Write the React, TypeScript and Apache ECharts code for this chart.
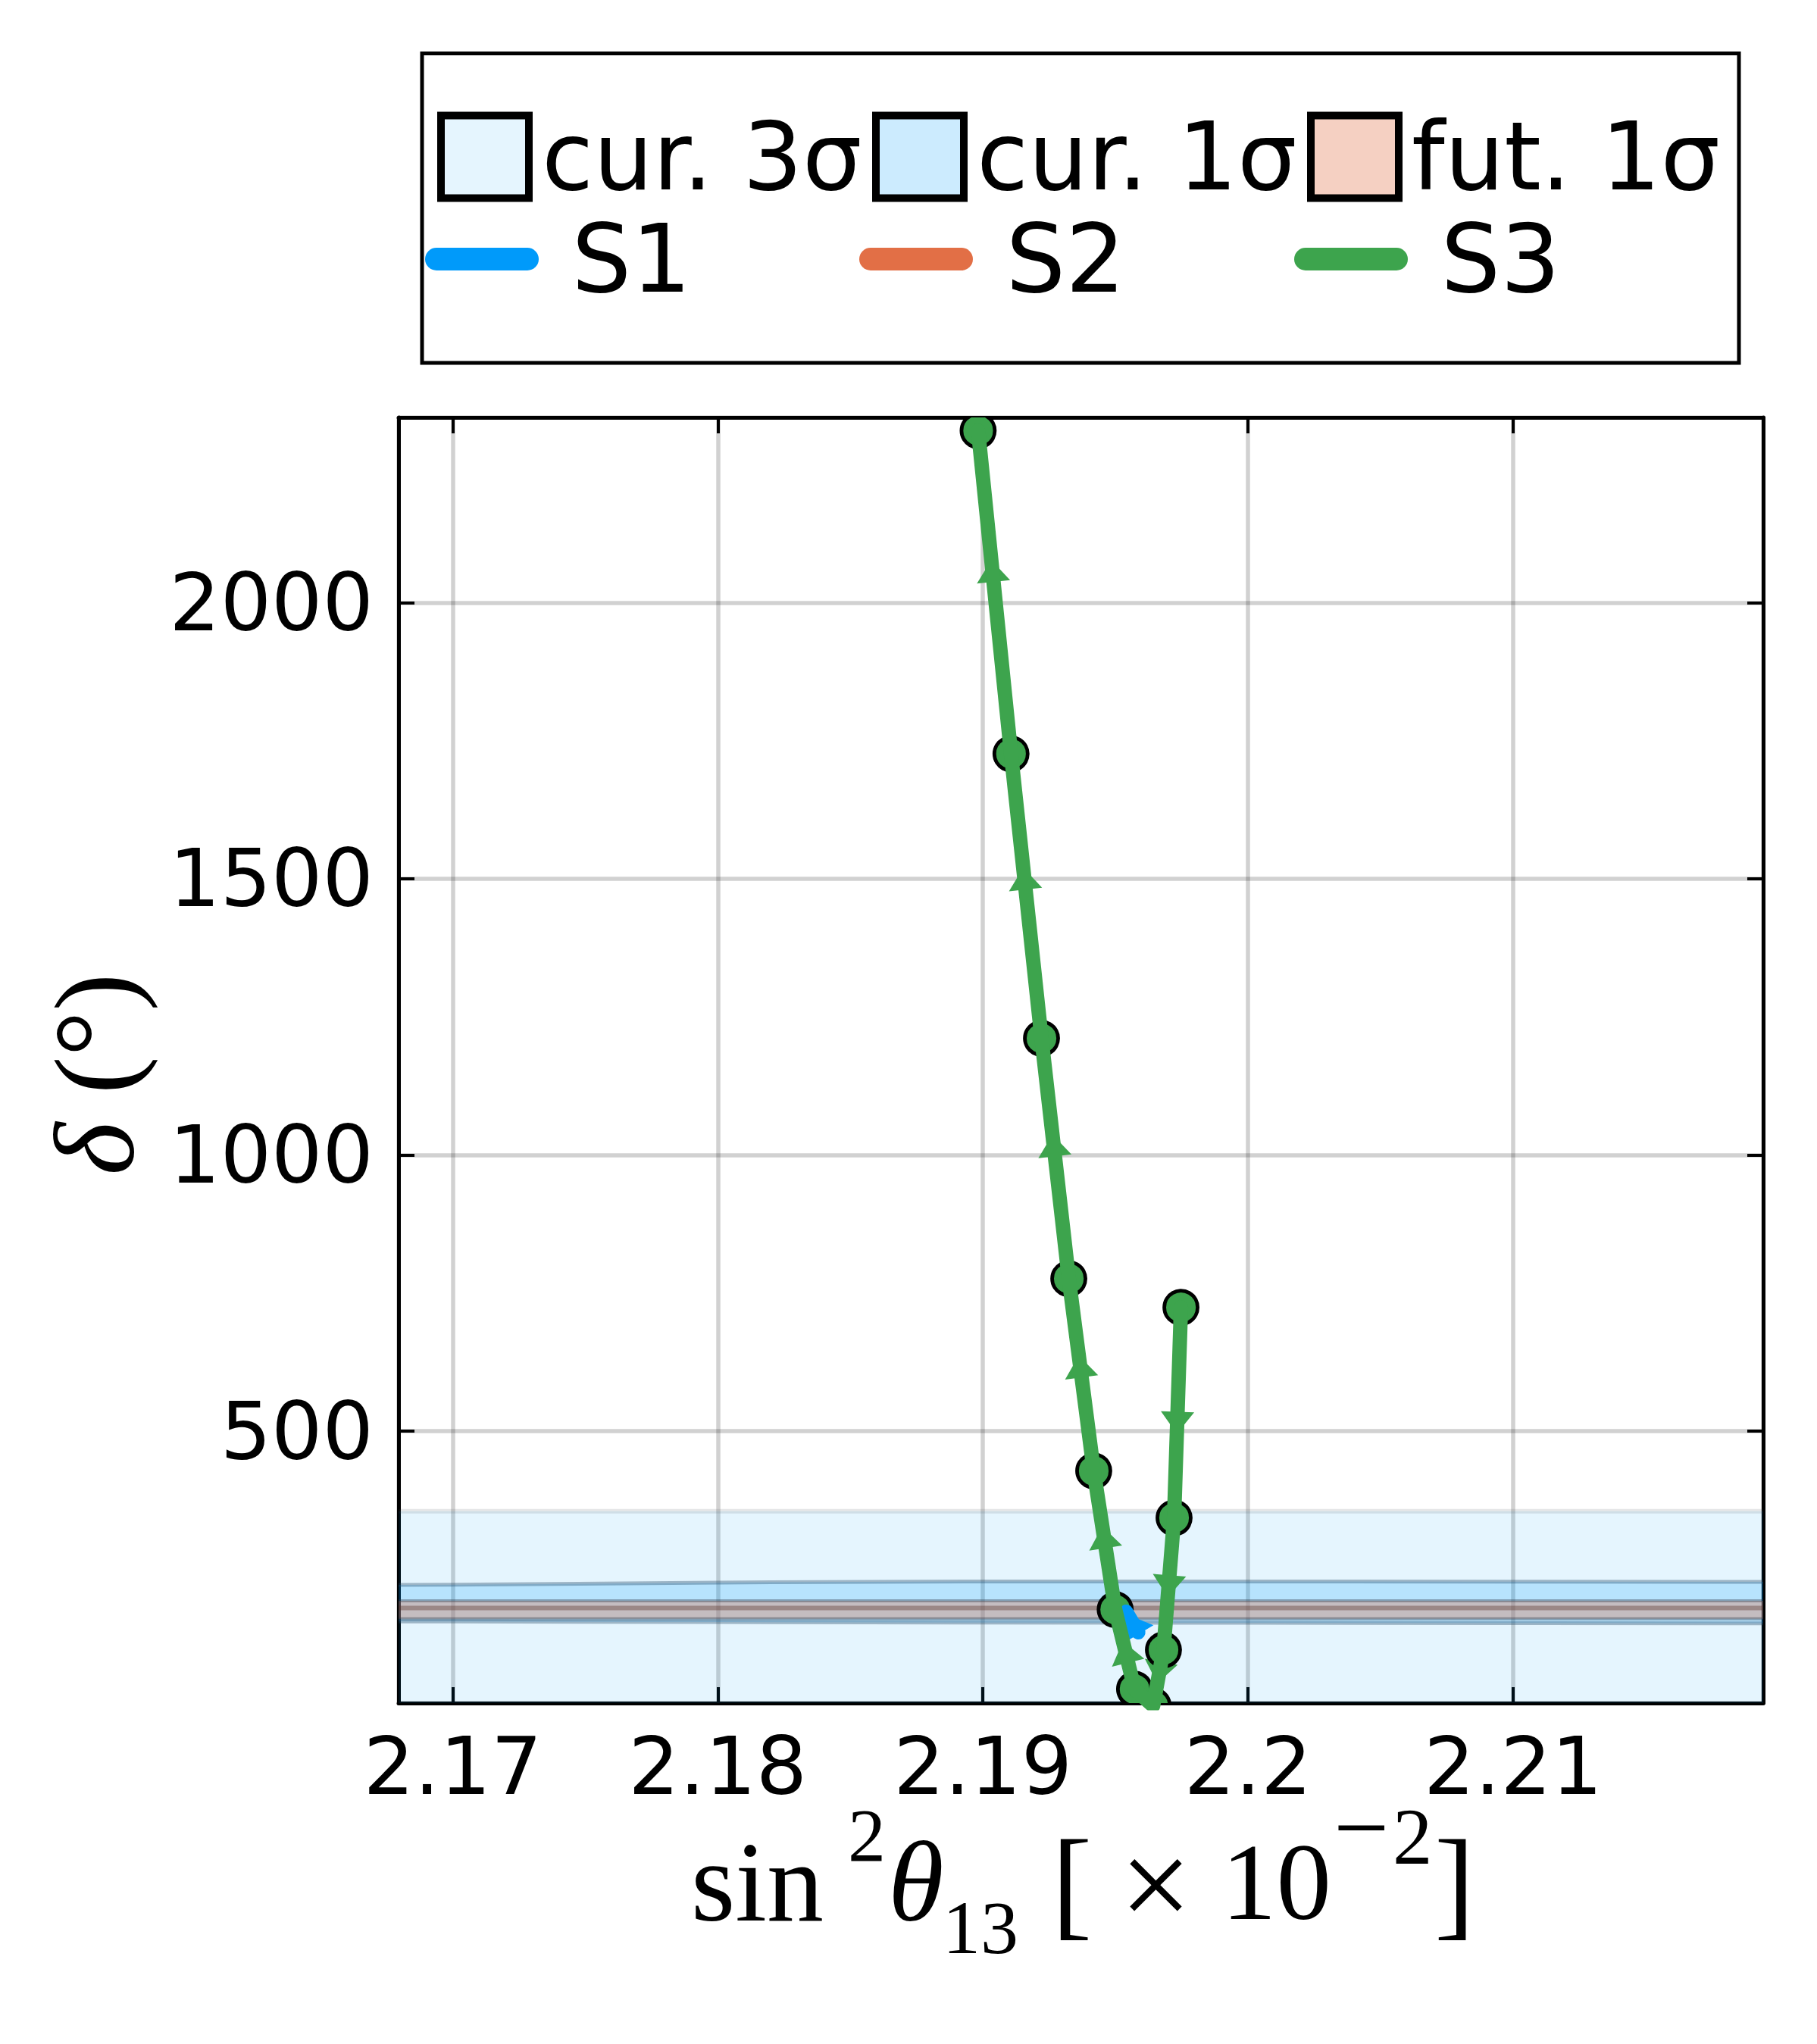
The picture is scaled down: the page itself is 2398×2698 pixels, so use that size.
import React, { useEffect, useRef } from 'react';
import * as echarts from 'echarts';

// ---------- axis ranges ----------
const xRange = [2.16796, 2.21943];
const yRange = [7.8, 2335];

// ---------- band samples (x positions and edges, in degrees) ----------
const bandX = [2.165, 2.17, 2.18, 2.19, 2.2, 2.21, 2.222];
const cur3Lower = [-150, -150, -150, -150, -150, -150, -150];
const cur3Upper = [355, 355, 355, 355, 355, 355, 355];
const cur1Upper = [221, 222, 226, 228, 228, 227.5, 227];
const cur1Lower = [155.5, 155.5, 154.5, 153.5, 153, 152.5, 152];
const futUpper = [193, 193, 193, 193, 193, 193, 193];
const futLower = [160.5, 160.5, 160.5, 160.5, 160.5, 160.5, 160.5];
const futCentral = [180, 180, 180, 180, 180, 180, 180];

// ---------- flows ----------
const s1X = [2.19586, 2.1954];
const s1Y = [136, 173];
const s2X: number[] = [];
const s2Y: number[] = [];
const s3X = [2.19747, 2.19721, 2.19681, 2.19642, 2.19572, 2.19499, 2.19418, 2.19324, 2.19221, 2.19106, 2.18982];
const s3Y = [724, 343, 104, 3, 33, 177, 428, 776, 1211, 1726, 2311];

// ---------- legend labels ----------
const bandNames = ['cur. 3σ', 'cur. 1σ', 'fut. 1σ'];
const lineNames = ['S1', 'S2', 'S3'];

const BLUE = '#009afa';
const ORANGE = '#e26f46';
const GREEN = '#3da44d';

const pairs = (xs: number[], ys: number[]) => xs.map((x, i) => [x, ys[i]]);

function bandSeries(name: string, upper: number[], lower: number[], fill: string, edge: string, edgeW: number, center?: number[]) {
  return {
    type: 'custom',
    name,
    clip: true,
    silent: true,
    itemStyle: { color: fill },
    data: [[bandX[0], upper[0]]],
    renderItem: (_p: any, api: any) => {
      const up = bandX.map((x, i) => api.coord([x, upper[i]]));
      const lo = bandX.map((x, i) => api.coord([x, lower[i]]));
      const children: any[] = [
        { type: 'polygon', shape: { points: up.concat(lo.slice().reverse()) }, style: { fill, stroke: null } },
        { type: 'polyline', shape: { points: up }, style: { fill: null, stroke: edge, lineWidth: edgeW } },
        { type: 'polyline', shape: { points: lo }, style: { fill: null, stroke: edge, lineWidth: edgeW } },
      ];
      if (center) {
        const c = bandX.map((x, i) => api.coord([x, center[i]]));
        children.push({ type: 'polyline', shape: { points: c }, style: { fill: null, stroke: 'rgba(90,50,40,0.38)', lineWidth: 6 } });
      }
      return { type: 'group', children };
    },
  };
}

function arrowSeries(name: string, xs: number[], ys: number[], color: string, frac: number) {
  return {
    type: 'custom',
    name,
    clip: true,
    silent: true,
    data: pairs(xs, ys),
    renderItem: (p: any, api: any) => {
      const i = p.dataIndex;
      if (i === 0) return null;
      const a = api.coord([xs[i - 1], ys[i - 1]]);
      const b = api.coord([xs[i], ys[i]]);
      const dx = b[0] - a[0];
      const dy = b[1] - a[1];
      const L = Math.hypot(dx, dy) || 1;
      const ux = dx / L, uy = dy / L;
      const tip = [a[0] + dx * frac, a[1] + dy * frac];
      const len = 29, hw = 22;
      const bc = [tip[0] - ux * len, tip[1] - uy * len];
      const l = [bc[0] - uy * hw, bc[1] + ux * hw];
      const r = [bc[0] + uy * hw, bc[1] - ux * hw];
      return { type: 'polygon', shape: { points: [tip, l, r] }, style: { fill: color } };
    },
  };
}

function markerSeries(name: string, xs: number[], ys: number[], color: string) {
  return {
    type: 'custom',
    name,
    clip: true,
    silent: true,
    data: pairs(xs, ys),
    renderItem: (_p: any, api: any) => {
      const c = api.coord([api.value(0), api.value(1)]);
      return { type: 'circle', shape: { cx: c[0], cy: c[1], r: 22 }, style: { fill: color, stroke: '#000', lineWidth: 4.8 } };
    },
  };
}

function lineSeries(name: string, xs: number[], ys: number[], color: string) {
  return {
    type: 'line',
    name,
    data: pairs(xs, ys),
    symbol: 'none',
    clip: true,
    silent: true,
    itemStyle: { color },
    lineStyle: { color, width: 19, cap: 'round', join: 'round' },
  };
}

const axisLine = { show: true, onZero: false, lineStyle: { color: '#000', width: 5 } };
const axisTick = { show: true, inside: true, length: 21, lineStyle: { color: '#000', width: 4 } };
const splitLine = { show: true, lineStyle: { color: 'rgba(0,0,0,0.18)', width: 5.5 } };
const tickFont = { fontFamily: 'DejaVu Sans', fontSize: 106, color: '#000' };

const LEGEND_TEXT = { fontFamily: 'DejaVu Sans', fontSize: 124, color: '#000' };
const bandLegendLeft = [577, 1151, 1725];
const lineLegendLeft = [561, 1134, 1708];
const bandFills = ['rgba(0,154,250,0.1)', 'rgba(0,154,250,0.2)', 'rgba(226,111,70,0.33)'];
const lineColors = [BLUE, ORANGE, GREEN];

const legends: any[] = [
  ...bandNames.map((n, i) => ({
    data: [n],
    left: bandLegendLeft[i],
    top: 145,
    padding: 0,
    selectedMode: false,
    icon: 'rect',
    itemWidth: 116,
    itemHeight: 109,
    itemStyle: { color: bandFills[i], borderColor: '#000', borderWidth: 10 },
    textStyle: { ...LEGEND_TEXT, padding: [0, 0, 0, 12] },
  })),
  ...lineNames.map((n, i) => ({
    data: [n],
    left: lineLegendLeft[i],
    top: 280,
    padding: 0,
    selectedMode: false,
    icon: 'path://M15,0 H135 A15,15 0 0 1 135,30 H15 A15,15 0 0 1 15,0 Z',
    itemWidth: 151,
    itemHeight: 30,
    itemStyle: { color: lineColors[i], borderWidth: 0 },
    textStyle: { ...LEGEND_TEXT, padding: [0, 0, 0, 38] },
  })),
];

const serif = 'Liberation Serif';
const txt = (text: string, x: number, y: number, size: number, italic = false) => ({
  type: 'text',
  x,
  y,
  silent: true,
  style: { text, fontFamily: serif, fontSize: size, fontStyle: italic ? 'italic' : 'normal', fill: '#000', align: 'left', verticalAlign: 'middle' },
});

const graphics: any[] = [
  { type: 'rect', shape: { x: 557, y: 70.5, width: 1738, height: 408.5 }, style: { fill: null, stroke: '#000', lineWidth: 5 }, silent: true },
  txt('sin', 912, 2484, 150),
  txt('2', 1119, 2422, 100),
  txt('θ', 1172, 2484, 150, true),
  txt('13', 1244, 2544, 100),
  txt('[', 1388, 2485, 160),
  txt('×', 1478, 2487, 168),
  txt('10', 1612, 2484, 145),
  txt('−', 1760, 2412, 130),
  txt('2', 1838, 2424, 105),
  txt(']', 1893, 2485, 160),
  {
    type: 'text',
    x: 125,
    y: 1418,
    rotation: Math.PI / 2,
    silent: true,
    style: {
      text: '{i|δ}{r| (°)}',
      fill: '#000',
      align: 'center',
      verticalAlign: 'middle',
      rich: {
        i: { fontFamily: serif, fontStyle: 'italic', fontSize: 150, fill: '#000' },
        r: { fontFamily: serif, fontSize: 150, fill: '#000' },
      },
    },
  },
];

export default function App() {
  const ref = useRef<HTMLDivElement>(null);
  useEffect(() => {
    const chart = echarts.init(ref.current!, null, { renderer: 'svg' });
    const option: any = {
      animation: false,
      backgroundColor: '#fff',
      textStyle: { fontFamily: 'DejaVu Sans' },
      grid: { left: 526, top: 551, width: 1801, height: 1697, containLabel: false },
      legend: legends,
      xAxis: [
        {
          type: 'value', min: xRange[0], max: xRange[1], position: 'bottom',
          axisLine, axisTick, splitLine,
          axisLabel: { ...tickFont, margin: 30, showMinLabel: false, showMaxLabel: false },
        },
        {
          type: 'value', min: xRange[0], max: xRange[1], position: 'top',
          axisLine, axisTick, splitLine: { show: false }, axisLabel: { show: false },
        },
      ],
      yAxis: [
        {
          type: 'value', min: yRange[0], max: yRange[1], position: 'left',
          axisLine, axisTick, splitLine,
          axisLabel: { ...tickFont, margin: 33, showMinLabel: false, showMaxLabel: false, formatter: (v: number) => String(Math.round(v)) },
        },
        {
          type: 'value', min: yRange[0], max: yRange[1], position: 'right',
          axisLine, axisTick, splitLine: { show: false }, axisLabel: { show: false },
        },
      ],
      graphic: graphics,
      series: [
        bandSeries(bandNames[0], cur3Upper, cur3Lower, bandFills[0], 'rgba(60,70,80,0.13)', 6),
        bandSeries(bandNames[1], cur1Upper, cur1Lower, bandFills[1], 'rgba(30,70,100,0.36)', 5),
        bandSeries(bandNames[2], futUpper, futLower, bandFills[2], 'rgba(50,60,75,0.4)', 4, futCentral),
        lineSeries('S1', s1X, s1Y, BLUE),
        arrowSeries('S1 arrows', s1X, s1Y, BLUE, 0.85),
        lineSeries('S2', s2X, s2Y, ORANGE),
        lineSeries('S3', s3X, s3Y, GREEN),
        arrowSeries('S3 arrows', s3X, s3Y, GREEN, 0.6),
        markerSeries('S3 points', s3X, s3Y, GREEN),
      ],
    };
    chart.setOption(option);
    return () => chart.dispose();
  }, []);
  return (
    <div
      ref={ref}
      style={{ position: 'fixed', left: 0, top: 0, width: 2398, height: 2698, background: '#fff' }}
    />
  );
}
